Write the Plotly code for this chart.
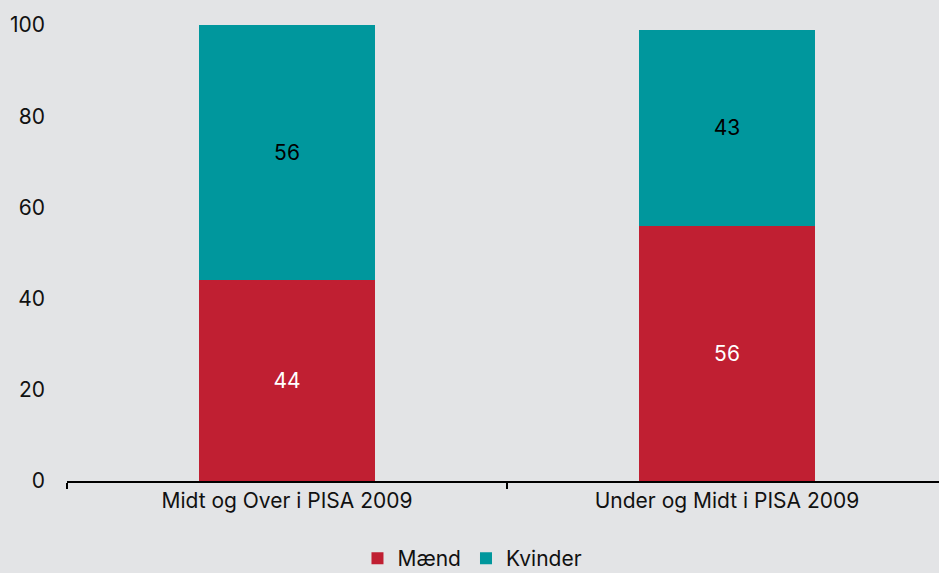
import plotly.graph_objects as go

categories = ["Midt og Over i PISA 2009", "Under og Midt i PISA 2009"]
maend = [44, 56]
kvinder = [56, 43]
y_ticks = [0, 20, 40, 60, 80, 100]

RED = "#C01F32"
TEAL = "#00979D"
BG = "#E3E4E6"
FONT = "Inter"
FS = 21

fig = go.Figure()
fig.add_trace(go.Bar(
    x=categories, y=maend, name="Mænd", marker=dict(color=RED, line=dict(width=0)),
    width=0.4, text=[str(v) for v in maend], textposition="inside",
    insidetextanchor="middle", textfont=dict(color="white", size=FS, family=FONT),
))
fig.add_trace(go.Bar(
    x=categories, y=kvinder, name="Kvinder", marker=dict(color=TEAL, line=dict(width=0)),
    width=0.4, text=[str(v) for v in kvinder], textposition="inside",
    insidetextanchor="middle", textfont=dict(color="black", size=FS, family=FONT),
))

fig.update_layout(
    barmode="stack",
    width=939, height=573,
    paper_bgcolor=BG, plot_bgcolor=BG,
    margin=dict(l=67, r=0, t=25, b=92, autoexpand=False),
    font=dict(family=FONT, size=FS, color="#111111"),
    showlegend=True,
    legend=dict(orientation="h", x=0.465, xanchor="center",
                y=-0.125, yanchor="top", borderwidth=0,
                font=dict(size=FS), itemwidth=30, traceorder="normal",
                bgcolor="rgba(0,0,0,0)"),
    uniformtext=dict(mode="show", minsize=10),
)
fig.update_xaxes(
    range=[-0.5, 1.4818], showline=True, linecolor="black", linewidth=1.5,
    ticks="outside", tickson="boundaries", ticklen=6, tickcolor="black", tickwidth=1.5,
    showgrid=False, zeroline=False, tickfont=dict(size=FS), automargin=False,
)
fig.update_yaxes(
    range=[0, 100], tickvals=y_ticks, ticktext=[str(v) for v in y_ticks],
    showgrid=False, zeroline=False, showline=False, ticks="",
    ticklabelstandoff=21, tickfont=dict(size=FS), automargin=False,
)

fig.write_html(
    "out.html",
    config={"displayModeBar": False},
    post_script="document.body.style.margin='0';document.body.style.background='%s';" % BG,
)
